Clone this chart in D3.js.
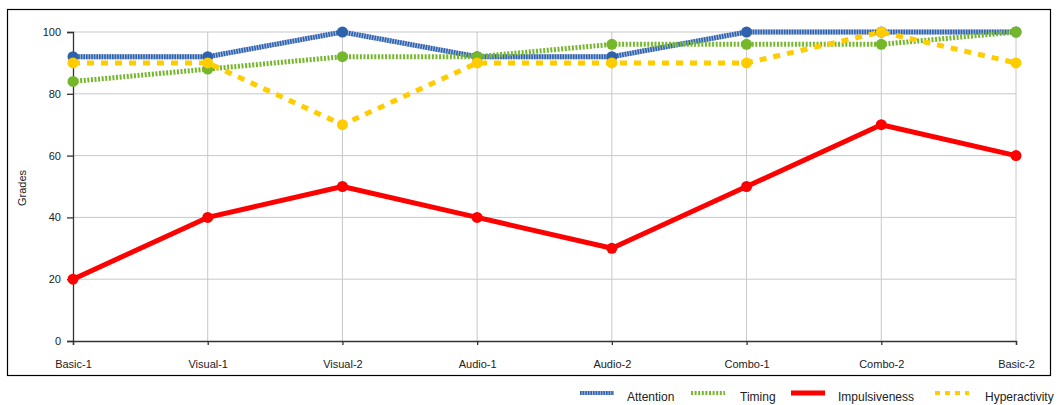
<!DOCTYPE html>
<html><head><meta charset="utf-8">
<script src="https://cdn.jsdelivr.net/npm/d3@7"></script>
<style>body{margin:0;background:#fff}svg{display:block;font-family:"Liberation Sans",Arial,sans-serif}</style>
</head><body>
<script>
const categories = ["Basic-1","Visual-1","Visual-2","Audio-1","Audio-2","Combo-1","Combo-2","Basic-2"];
const attention = [92,92,100,92,92,100,100,100];
const timing = [84,88,92,92,96,96,96,100];
const impulsiveness = [20,40,50,40,30,50,70,60];
const hyperactivity = [90,90,70,90,90,90,100,90];
const yTicks = [0,20,40,60,80,100];

const series = [
  {name:"Attention", values:attention, color:"#2e62ac", dash:"1.6,1", width:5, light:true},
  {name:"Timing", values:timing, color:"#74b72b", dash:"2,1.6", width:5},
  {name:"Impulsiveness", values:impulsiveness, color:"#ff0000", dash:null, width:5},
  {name:"Hyperactivity", values:hyperactivity, color:"#ffcc00", dash:"7,7", width:5}
];

const W=1061,H=405;
const svg=d3.select("body").append("svg").attr("width",W).attr("height",H);
svg.append("rect").attr("x",7.5).attr("y",9.5).attr("width",1043).attr("height",366)
  .attr("fill","none").attr("stroke","#000").attr("stroke-width",1.2);

const x=d3.scalePoint().domain(categories).range([73,1016]);
const y=d3.scaleLinear().domain([0,100]).range([341,32]);

// grid
svg.append("g").selectAll("line").data(yTicks.filter(d=>d>0)).join("line")
  .attr("x1",73).attr("x2",1016).attr("y1",d=>y(d)).attr("y2",d=>y(d))
  .attr("stroke","#c8c8c8").attr("stroke-width",1);
svg.append("g").selectAll("line").data(categories.slice(1)).join("line")
  .attr("x1",d=>x(d)).attr("x2",d=>x(d)).attr("y1",y(100)).attr("y2",y(0))
  .attr("stroke","#c8c8c8").attr("stroke-width",1);

// axes
const ya=svg.append("g").attr("transform","translate(73,0)")
  .call(d3.axisLeft(y).tickValues(yTicks).tickSize(6).tickPadding(6));
const xa=svg.append("g").attr("transform","translate(0,341)")
  .call(d3.axisBottom(x).tickSize(4).tickPadding(15));
[ya,xa].forEach(a=>{
  a.select(".domain").attr("stroke","#333").attr("stroke-width",1.3);
  a.selectAll(".tick line").attr("stroke","#333").attr("stroke-width",1.3);
  a.selectAll("text").attr("font-size",11).attr("fill","#222").attr("font-family","Liberation Sans, Arial, sans-serif");
});
xa.selectAll(".tick text").attr("dy","0.71em");

svg.append("text").attr("transform","translate(26,188) rotate(-90)")
  .attr("text-anchor","middle").attr("font-size",11).attr("fill","#222").text("Grades");

const line=d3.line().x((d,i)=>x(categories[i])).y(d=>y(d));
series.forEach(s=>{
  const g=svg.append("g");
  if(s.light){
    g.append("path").attr("d",line(s.values)).attr("fill","none")
      .attr("stroke","#a8bde0").attr("stroke-width",s.width);
  }
  g.append("path").attr("d",line(s.values)).attr("fill","none")
    .attr("stroke",s.color).attr("stroke-width",s.width)
    .attr("stroke-dasharray",s.dash).attr("stroke-linejoin","round");
  g.selectAll("circle").data(s.values).join("circle")
    .attr("cx",(d,i)=>x(categories[i])).attr("cy",d=>y(d)).attr("r",5.5).attr("fill",s.color);
});

// legend
const legendPos=[{sx:580,tx:627},{sx:691,tx:740},{sx:791,tx:838},{sx:935,tx:985}];
series.forEach((s,i)=>{
  const p=legendPos[i], ly=397;
  if(s.light){
    svg.append("line").attr("x1",p.sx).attr("x2",p.sx+34).attr("y1",ly-4).attr("y2",ly-4)
      .attr("stroke","#a8bde0").attr("stroke-width",4);
  }
  svg.append("line").attr("x1",p.sx).attr("x2",p.sx+34).attr("y1",ly-4).attr("y2",ly-4)
    .attr("stroke",s.color).attr("stroke-width",i===2?5:4).attr("stroke-dasharray",s.name==="Hyperactivity"?"5,5":s.dash);
  svg.append("text").attr("x",p.tx).attr("y",ly+4).attr("font-size",12).attr("fill","#222").text(s.name);
});
</script>
</body></html>
